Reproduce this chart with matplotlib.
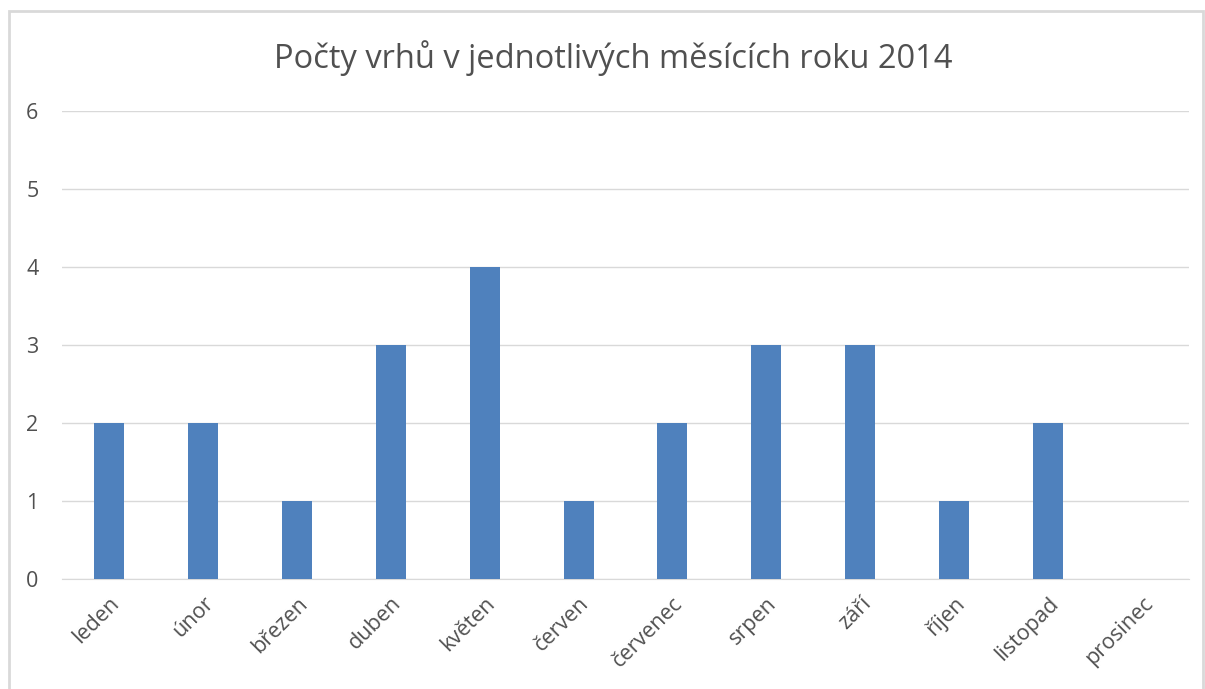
import matplotlib.pyplot as plt
from matplotlib.patches import Rectangle

months = ["leden", "únor", "březen", "duben", "květen", "červen",
          "červenec", "srpen", "září", "říjen", "listopad", "prosinec"]
litters = [2, 2, 1, 3, 4, 1, 2, 3, 3, 1, 2, 0]
yticks = [0, 1, 2, 3, 4, 5, 6]

plt.rcParams['font.family'] = ['Open Sans', 'DejaVu Sans']
grey = "#505050"

fig = plt.figure(figsize=(12.05, 6.89), dpi=100)
ax = fig.add_axes([62 / 1205, 1 - 579 / 689, 1127 / 1205, 468 / 689])

# chart frame
fig.patches.append(Rectangle((9 / 1205, -0.05), 1194 / 1205, 1 - 11 / 689 + 0.05,
                             transform=fig.transFigure, fill=False,
                             edgecolor="#d9d9d9", linewidth=2))

x = range(len(months))
ax.bar(x, litters, width=0.32, color="#4f81bd", zorder=3)

ax.set_xlim(-0.5, len(months) - 0.5)
ax.set_ylim(0, 6)
ax.set_yticks(yticks)
ax.grid(axis="y", color="#d9d9d9", linewidth=1)
ax.set_axisbelow(True)
for s in ["top", "right", "left"]:
    ax.spines[s].set_visible(False)
ax.spines["bottom"].set_color("#d9d9d9")

ax.set_xticks(list(x))
ax.set_xticklabels(months, rotation=45, ha="right", rotation_mode="anchor",
                   fontsize=15.5, color=grey)
ax.tick_params(axis="x", length=0, pad=10)
ax.tick_params(axis="y", length=0, pad=17, labelsize=15.5, labelcolor=grey)

fig.text(613 / 1205, 1 - 58 / 689, "Počty vrhů v jednotlivých měsících roku 2014",
         ha="center", va="center", fontsize=23.5, color=grey)

plt.savefig("out.png", dpi=100)
